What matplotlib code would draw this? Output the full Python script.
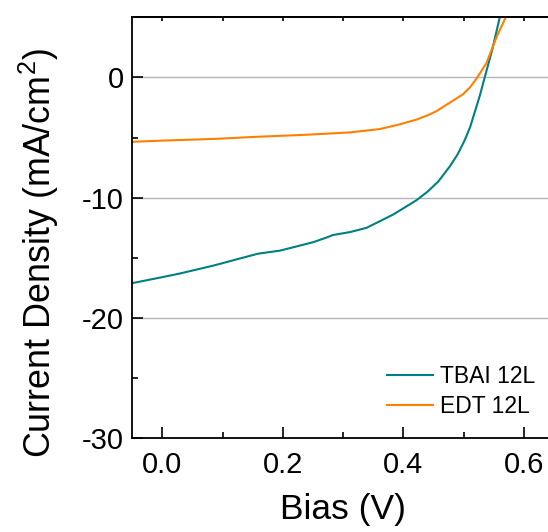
import matplotlib
matplotlib.use('Agg')
import matplotlib.pyplot as plt
import matplotlib.ticker as mticker

plt.rcParams['font.family'] = ['Liberation Sans', 'DejaVu Sans']
plt.rcParams['mathtext.fontset'] = 'custom'
plt.rcParams['mathtext.rm'] = 'Liberation Sans'
plt.rcParams['mathtext.it'] = 'Liberation Sans:italic'
plt.rcParams['axes.unicode_minus'] = False

# J-V curves, bias in V, current density in mA/cm^2
tbai_bias = [-0.05, 0.0, 0.029, 0.084, 0.14, 0.159, 0.195, 0.25, 0.273, 0.283,
             0.312, 0.339, 0.383, 0.422, 0.44, 0.458, 0.477, 0.49, 0.502,
             0.511, 0.519, 0.527, 0.535, 0.548, 0.560, 0.570]
tbai_j = [-17.1, -16.6, -16.3, -15.65, -14.9, -14.65, -14.4, -13.7, -13.3,
          -13.1, -12.85, -12.5, -11.4, -10.2, -9.5, -8.65, -7.4, -6.4, -5.2,
          -4.1, -2.8, -1.5, 0.0, 2.4, 5.0, 6.6]

edt_bias = [-0.05, 0.0, 0.092, 0.15, 0.241, 0.311, 0.361, 0.394, 0.422, 0.44,
            0.455, 0.477, 0.499, 0.511, 0.522, 0.538, 0.555, 0.570, 0.580]
edt_j = [-5.35, -5.25, -5.1, -4.95, -4.76, -4.57, -4.29, -3.9, -3.5, -3.15,
         -2.8, -2.1, -1.4, -0.8, -0.05, 1.2, 3.4, 5.0, 6.2]

labels = ['TBAI 12L', 'EDT 12L']
colors = ['#008080', '#ff8000']

fig = plt.figure(figsize=(5.48, 5.32), dpi=100)
ax = fig.add_axes([0.2414, 0.1761, 0.7695, 0.7914])

ax.plot(tbai_bias, tbai_j, color=colors[0], lw=1.5, label=labels[0])
ax.plot(edt_bias, edt_j, color=colors[1], lw=1.5, label=labels[1])

ax.set_xlim(-0.05, 0.65)
ax.set_ylim(-30, 5)
ax.xaxis.set_major_locator(mticker.MultipleLocator(0.2))
ax.xaxis.set_minor_locator(mticker.MultipleLocator(0.1))
ax.xaxis.set_major_formatter(mticker.FormatStrFormatter('%.1f'))
ax.yaxis.set_major_locator(mticker.FixedLocator([-30, -20, -10, 0]))
ax.yaxis.set_minor_locator(mticker.FixedLocator([-25, -15, -5]))

for y in (-20, -10, 0):
    ax.axhline(y, color='#b4b4b4', lw=1.0, zorder=0)

for side in ('left', 'bottom', 'top'):
    ax.spines[side].set_linewidth(1.3)
ax.spines['right'].set_visible(False)

ax.tick_params(which='both', direction='in', labelsize=21, width=1.2)
ax.tick_params(which='major', length=8)
ax.tick_params(which='minor', length=4)
ax.tick_params(axis='x', pad=9)
ax.tick_params(axis='y', pad=6)

top = ax.secondary_xaxis('top')
top.xaxis.set_major_locator(mticker.MultipleLocator(0.1))
top.tick_params(which='both', direction='in', length=3, width=1.2,
                labeltop=False)
top.spines['top'].set_linewidth(1.3)

ax.set_xlabel('Bias (V)', fontsize=25.5, labelpad=10)
ax.set_ylabel('Current Density (mA/cm$^2$)', fontsize=25.8)
ax.yaxis.set_label_coords(-0.17, 0.44)

ax.legend(loc='lower right', bbox_to_anchor=(1.004, 0.0), frameon=False,
          fontsize=16.5, handlelength=2.0, handletextpad=0.3,
          labelspacing=0.3)

fig.savefig('out.png', dpi=100)
